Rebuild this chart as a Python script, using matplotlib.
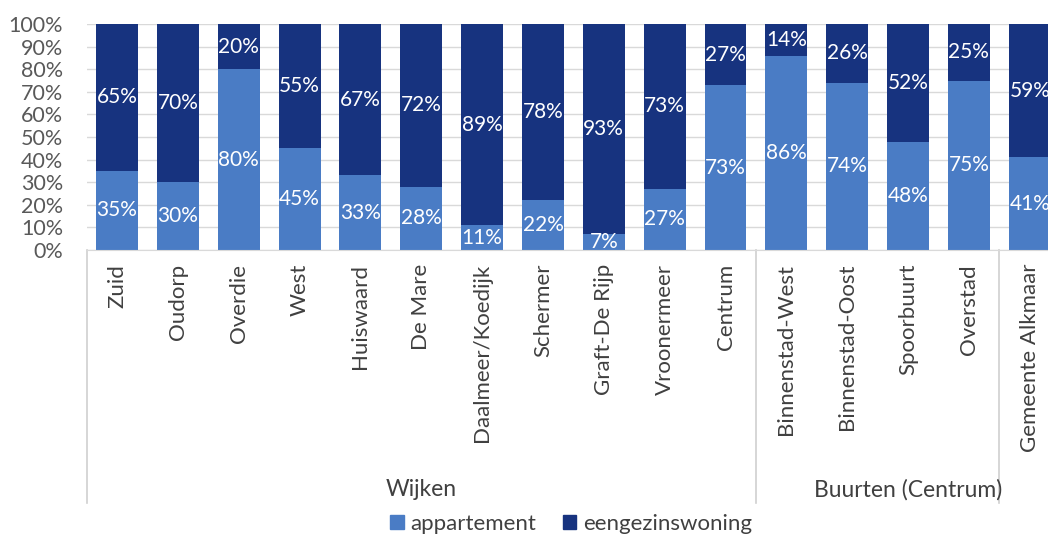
import matplotlib.pyplot as plt
import matplotlib.transforms as mtransforms
from matplotlib.patches import Patch

categories = ["Zuid", "Oudorp", "Overdie", "West", "Huiswaard", "De Mare",
              "Daalmeer/Koedijk", "Schermer", "Graft-De Rijp", "Vroonermeer",
              "Centrum", "Binnenstad-West", "Binnenstad-Oost", "Spoorbuurt",
              "Overstad", "Gemeente Alkmaar"]
appartement = [35, 30, 80, 45, 33, 28, 11, 22, 7, 27, 73, 86, 74, 48, 75, 41]
eengezinswoning = [65, 70, 20, 55, 67, 72, 89, 78, 93, 73, 27, 14, 26, 52, 25, 59]
groups = ["Wijken", "Buurten (Centrum)"]
group_pos = [5.0, 13.0]
separators = [-0.5, 10.5, 14.5]

light = "#4a7cc5"
dark = "#17337f"
plt.rcParams['font.family'] = ['Lato', 'DejaVu Sans']

fig = plt.figure(figsize=(10.48, 5.39), dpi=100)
ax = fig.add_axes([86.6 / 1048, (539 - 250) / 539, (1048 - 86.6) / 1048, 226 / 539])

x = list(range(len(categories)))
a = [v / 100 for v in appartement]
e = [v / 100 for v in eengezinswoning]
ax.bar(x, a, width=0.69, color=light, zorder=2)
ax.bar(x, e, width=0.69, bottom=a, color=dark, zorder=2)

for i in x:
    ax.text(i, a[i] / 2, f"{appartement[i]}%", ha="center", va="center",
            color="white", fontsize=15, zorder=3)
    ax.text(i, a[i] + e[i] / 2, f"{eengezinswoning[i]}%", ha="center", va="center",
            color="white", fontsize=15, zorder=3)

ax.set_ylim(0, 1)
ax.set_xlim(-0.5, 15.3)
ax.set_yticks([i / 10 for i in range(11)])
ax.set_yticklabels([f"{i * 10}%" for i in range(11)], fontsize=15.5, color="#595959")
ax.yaxis.grid(True, color="#d9d9d9", linewidth=1, zorder=0)
ax.tick_params(axis="y", length=0, pad=17)
ax.set_xticks(x)
ax.set_xticklabels(categories, rotation=90, fontsize=16, color="#404040", va="top")
ax.tick_params(axis="x", length=0, pad=10)
for s in ["top", "right", "left"]:
    ax.spines[s].set_visible(False)
ax.spines["bottom"].set_color("#d9d9d9")

trans = mtransforms.blended_transform_factory(ax.transData, ax.transAxes)
for s in separators:
    ax.plot([s, s], [0, -(503 - 250) / 226], transform=trans, color="#d0d0d0",
            linewidth=1.2, clip_on=False)
for g, p in zip(groups, group_pos):
    ax.text(p, -(490 - 250) / 226, g, transform=trans, ha="center", va="center",
            fontsize=16.5, color="#404040")

handles = [Patch(color=light, label="appartement"), Patch(color=dark, label="eengezinswoning")]
fig.legend(handles=handles, loc="center", bbox_to_anchor=(0.545, 0.028), ncol=2,
           frameon=False, fontsize=16, handlelength=0.6, handleheight=0.6,
           handletextpad=0.3, columnspacing=1.2, labelcolor="#404040")

fig.savefig("out.png", dpi=100)
